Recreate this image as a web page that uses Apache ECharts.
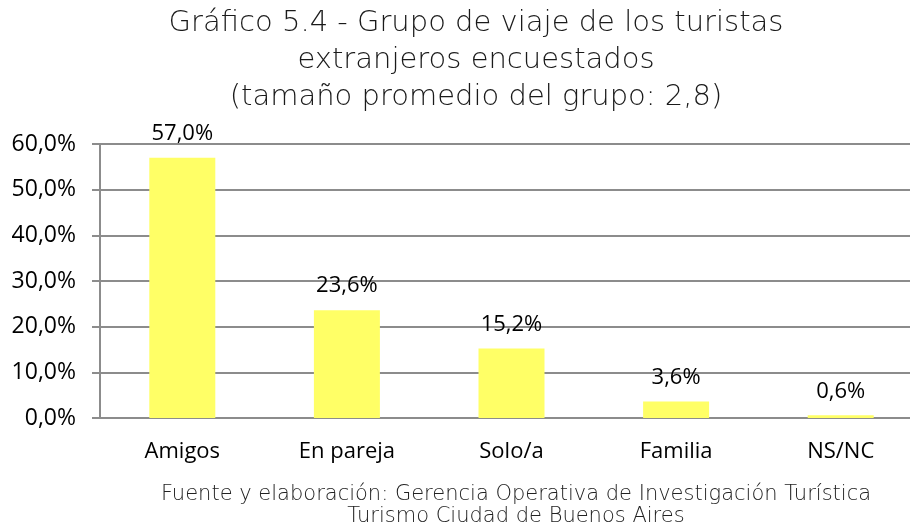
<!DOCTYPE html>
<html>
<head>
<meta charset="utf-8">
<script src="https://cdn.jsdelivr.net/npm/echarts@6/dist/echarts.min.js"></script>
<style>
  html, body { margin: 0; padding: 0; background: #fff; }
  #main { width: 910px; height: 525px; }
</style>
</head>
<body>
<div id="main"></div>
<script>
// datos del grafico
var categorias = ['Amigos', 'En pareja', 'Solo/a', 'Familia', 'NS/NC'];
var porcentajes = [57.0, 23.6, 15.2, 3.6, 0.6];
var titulo = 'Gráfico 5.4 - Grupo de viaje de los turistas\nextranjeros encuestados\n(tamaño promedio del grupo: 2,8)';
var fuente = 'Fuente y elaboración: Gerencia Operativa de Investigación Turística\nTurismo Ciudad de Buenos Aires';

function coma(v) {
  return v.toFixed(1).replace('.', ',') + '%';
}

var myChart = echarts.init(document.getElementById('main'));
var option = {
  backgroundColor: '#fff',
  title: [{
    text: titulo,
    left: 471,
    top: 0,
    textAlign: 'center',
    textStyle: {
      fontFamily: 'DejaVu Sans',
      fontWeight: 200,
      fontSize: 29,
      lineHeight: 37,
      color: '#1a1a1a'
    }
  }, {
    text: fuente,
    left: 511,
    top: 479,
    textAlign: 'center',
    textStyle: {
      fontFamily: 'DejaVu Sans',
      fontWeight: 200,
      fontSize: 21,
      lineHeight: 22,
      color: '#222'
    }
  }],
  grid: { left: 100, right: -13, top: 144, bottom: 107, outerBoundsMode: 'none', containLabel: false },
  xAxis: {
    type: 'category',
    data: categorias,
    axisLine: { show: false },
    axisTick: { show: false },
    axisLabel: {
      fontFamily: 'Open Sans',
      fontSize: 22,
      color: '#000',
      margin: 23
    }
  },
  yAxis: {
    type: 'value',
    min: 0,
    max: 60,
    interval: 10,
    axisLine: { show: true, lineStyle: { color: '#8c8c8c', width: 2 } },
    axisTick: { show: true, length: 8, lineStyle: { color: '#8c8c8c', width: 2 } },
    splitLine: { lineStyle: { color: '#8c8c8c', width: 2 } },
    axisLabel: {
      fontFamily: 'Open Sans',
      fontSize: 23,
      color: '#000',
      margin: 24,
      formatter: function (v) { return coma(v); }
    }
  },
  series: [{
    type: 'bar',
    data: porcentajes,
    barWidth: 66,
    itemStyle: { color: '#ffff66' },
    label: {
      show: true,
      position: 'top',
      distance: 13,
      fontFamily: 'Open Sans',
      fontSize: 22,
      color: '#000',
      formatter: function (p) { return coma(p.value); }
    }
  }]
};
myChart.setOption(option);
</script>
</body>
</html>
